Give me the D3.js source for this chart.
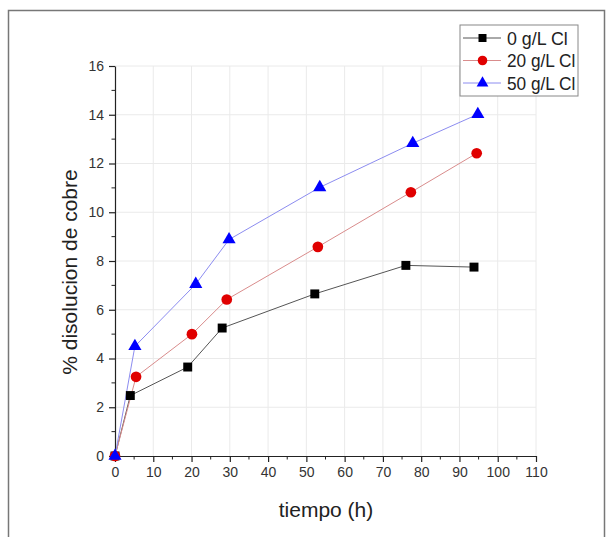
<!DOCTYPE html>
<html lang="es">
<head>
  <meta charset="UTF-8">
  <title>% disolucion de cobre</title>
  <script src="https://cdn.jsdelivr.net/npm/d3@7/dist/d3.min.js"></script>
  <style>
    body { margin: 0; background: #fff; }
    text { font-family: "Liberation Sans", Arial, sans-serif; }
  </style>
</head>
<body>
  <div id="wrapper"></div>
  <script>
    // datos
    const seriesNames = ["0 g/L Cl", "20 g/L Cl", "50 g/L Cl"]
    const tiempo0 = [0, 4, 19, 28, 52.2, 76, 93.8]
    const cobre0 = [0, 2.48, 3.65, 5.25, 6.65, 7.82, 7.75]
    const tiempo20 = [0, 5.5, 20.1, 29.2, 53, 77.3, 94.5]
    const cobre20 = [0, 3.25, 5.0, 6.42, 8.58, 10.82, 12.42]
    const tiempo50 = [0, 5.2, 21.1, 29.8, 53.5, 77.8, 94.8]
    const cobre50 = [0, 4.5, 7.05, 8.88, 11.02, 12.83, 14.02]
    const xTicks = [0, 10, 20, 30, 40, 50, 60, 70, 80, 90, 100, 110]
    const yTicks = [0, 2, 4, 6, 8, 10, 12, 14, 16]

    const dimensions = {
      width: 611,
      height: 537,
      margin: { top: 66, right: 75, bottom: 81, left: 115 }
    }
    dimensions.boundeWidth = dimensions.width - dimensions.margin.left - dimensions.margin.right
    dimensions.boundeHeight = dimensions.height - dimensions.margin.top - dimensions.margin.bottom

    const svg = d3.select("#wrapper").append("svg")
      .attr("width", dimensions.width)
      .attr("height", dimensions.height)

    // marco exterior
    svg.append("rect")
      .attr("x", 8.5).attr("y", 10.5)
      .attr("width", 596).attr("height", 540)
      .attr("fill", "none").attr("stroke", "#777").attr("stroke-width", 1.5)

    const bounds = svg.append("g")
      .attr("transform", `translate(${dimensions.margin.left},${dimensions.margin.top})`)

    const xScale = d3.scaleLinear().domain([0, 110]).range([0, dimensions.boundeWidth])
    const yScale = d3.scaleLinear().domain([0, 16]).range([dimensions.boundeHeight, 0])

    // rejilla
    bounds.append("g").selectAll("line").data(xTicks.slice(1)).join("line")
      .attr("x1", d => xScale(d)).attr("x2", d => xScale(d))
      .attr("y1", 0).attr("y2", dimensions.boundeHeight)
      .attr("stroke", "#eaeaea").attr("stroke-width", 1)
    bounds.append("g").selectAll("line").data(yTicks.slice(1)).join("line")
      .attr("x1", 0).attr("x2", dimensions.boundeWidth)
      .attr("y1", d => yScale(d)).attr("y2", d => yScale(d))
      .attr("stroke", "#eaeaea").attr("stroke-width", 1)

    // ejes
    const xAxis = bounds.append("g")
      .attr("transform", `translate(0,${dimensions.boundeHeight})`)
      .call(d3.axisBottom(xScale).tickValues(xTicks).tickSize(6).tickPadding(5).tickSizeOuter(0))
    xAxis.append("g").selectAll("line").data(d3.range(5, 110, 10)).join("line")
      .attr("x1", d => xScale(d)).attr("x2", d => xScale(d))
      .attr("y1", 0).attr("y2", 3.5).attr("stroke", "#222")

    const yAxis = bounds.append("g")
      .call(d3.axisLeft(yScale).tickValues(yTicks).tickSize(6).tickPadding(5).tickSizeOuter(0))
    yAxis.append("g").selectAll("line").data(d3.range(1, 16, 2)).join("line")
      .attr("x1", 0).attr("x2", -3.5)
      .attr("y1", d => yScale(d)).attr("y2", d => yScale(d)).attr("stroke", "#222")

    svg.selectAll(".tick text").attr("font-size", 14).attr("fill", "#333")
    svg.selectAll(".domain, .tick line").attr("stroke", "#222").attr("stroke-width", 1.2)

    svg.append("text")
      .attr("x", 326).attr("y", 517)
      .attr("text-anchor", "middle").attr("font-size", 21).attr("fill", "#222")
      .text("tiempo (h)")
    svg.append("text")
      .attr("transform", `translate(77,272) rotate(-90)`)
      .attr("text-anchor", "middle").attr("font-size", 21).attr("fill", "#222")
      .text("% disolucion de cobre")

    // series
    const series = [
      { name: seriesNames[0], x: tiempo0, y: cobre0, line: "#555", fill: "#000", shape: d3.symbolSquare, size: 80 },
      { name: seriesNames[1], x: tiempo20, y: cobre20, line: "#d98c8c", fill: "#e00000", shape: d3.symbolCircle, size: 90 },
      { name: seriesNames[2], x: tiempo50, y: cobre50, line: "#8c8cf0", fill: "#0000ff", shape: d3.symbolTriangle, size: 75 }
    ]

    const lineGenerator = d3.line()
      .x(d => xScale(d[0]))
      .y(d => yScale(d[1]))

    series.forEach(s => {
      const pts = s.x.map((v, i) => [v, s.y[i]])
      bounds.append("path")
        .attr("d", lineGenerator(pts))
        .attr("fill", "none").attr("stroke", s.line).attr("stroke-width", 1)
    })
    series.forEach(s => {
      const pts = s.x.map((v, i) => [v, s.y[i]])
      bounds.append("g").selectAll("path").data(pts).join("path")
        .attr("transform", d => `translate(${xScale(d[0])},${yScale(d[1])})`)
        .attr("d", d3.symbol().type(s.shape).size(s.size))
        .attr("fill", s.fill)
    })

    // leyenda
    const legend = svg.append("g").attr("transform", "translate(460,25)")
    legend.append("rect")
      .attr("width", 118).attr("height", 71)
      .attr("fill", "#fff").attr("stroke", "#888").attr("stroke-width", 1)
    series.forEach((s, i) => {
      const row = legend.append("g").attr("transform", `translate(0,${13 + i * 22.5})`)
      row.append("line").attr("x1", 3).attr("x2", 41).attr("stroke", s.line)
      row.append("path").attr("transform", "translate(22.5,0)")
        .attr("d", d3.symbol().type(s.shape).size(s.size * 0.8)).attr("fill", s.fill)
      row.append("text").attr("x", 47).attr("y", 6.5)
        .attr("font-size", 17.5).attr("fill", "#222")
        .attr("textLength", s.name.length * 7.6).attr("lengthAdjust", "spacingAndGlyphs")
        .text(s.name)
    })
  </script>
</body>
</html>
